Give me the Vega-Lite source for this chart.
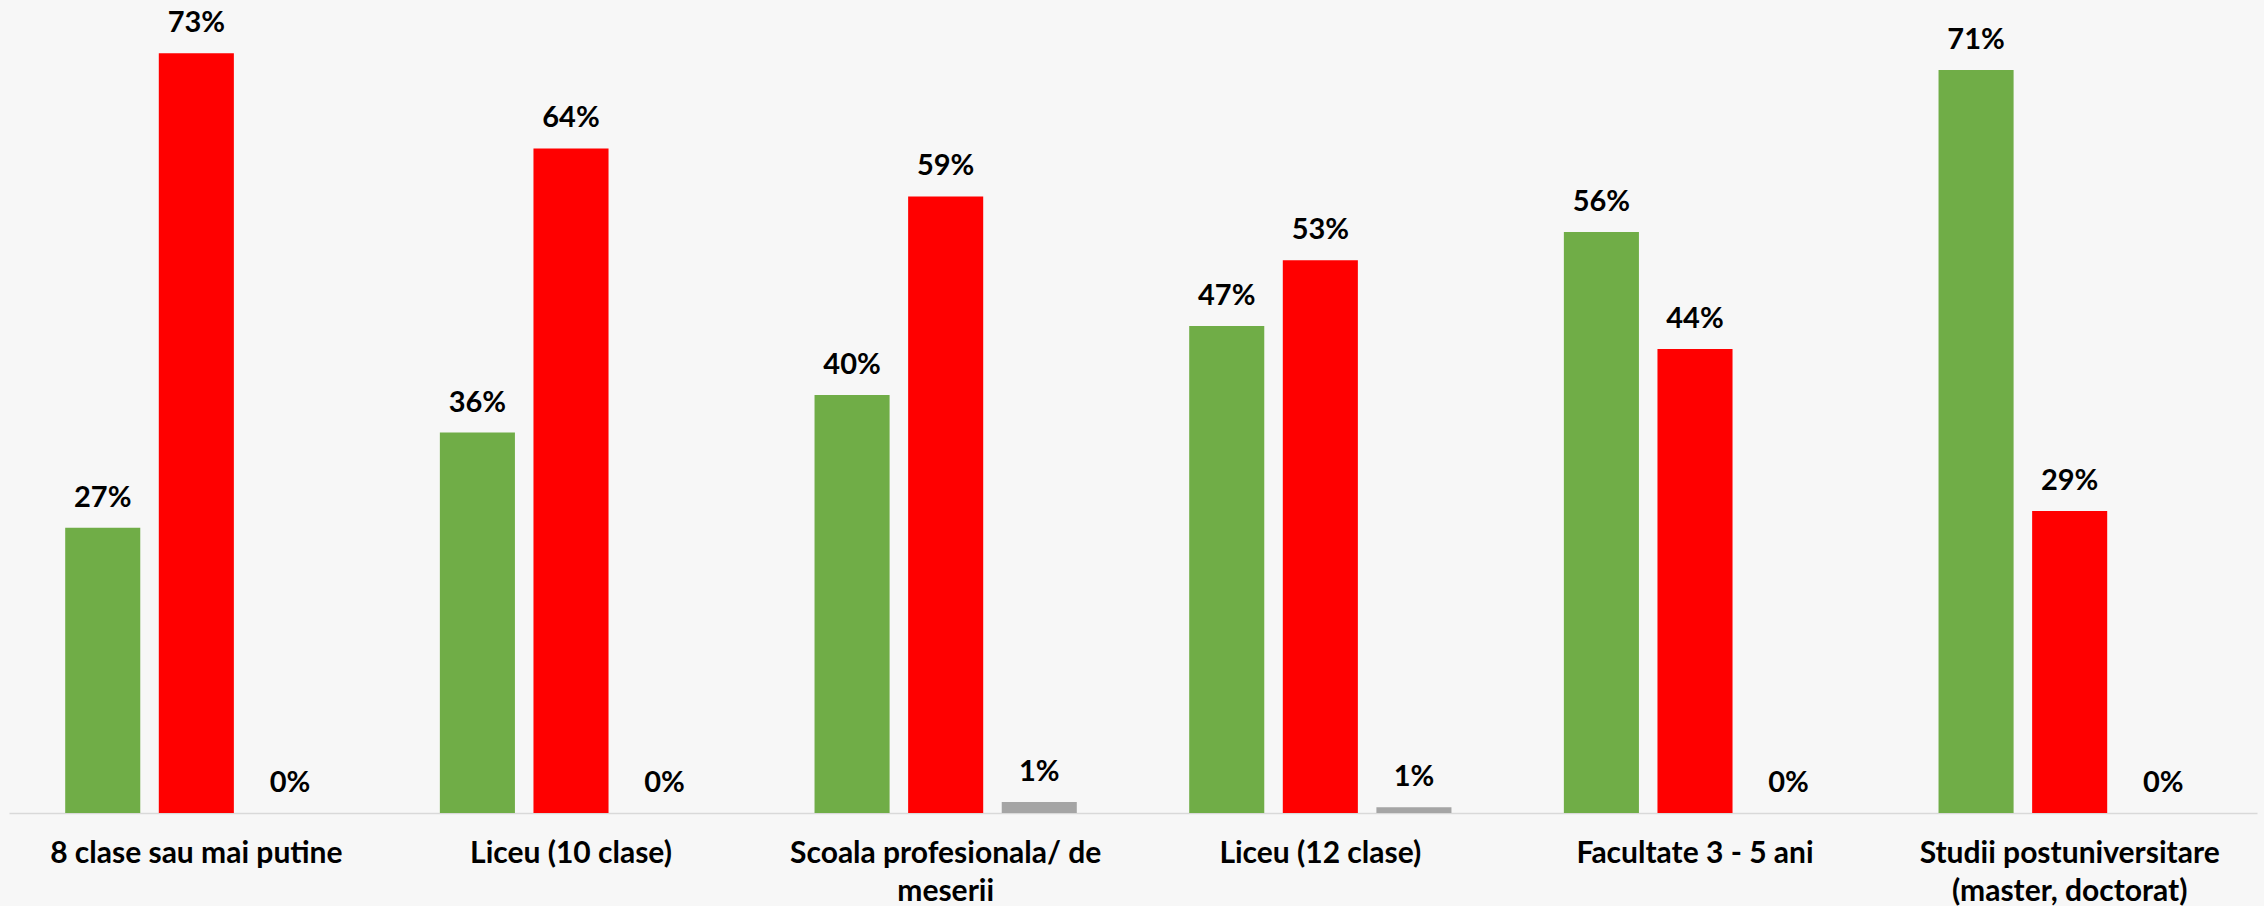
{
  "$schema": "https://vega.github.io/schema/vega-lite/v6.json",
  "width": 2248,
  "height": 813,
  "autosize": {"type": "none"},
  "padding": {"left": 9, "top": 0, "right": 7, "bottom": 93},
  "background": "#F7F7F7",
  "config": {"view": {"stroke": null}, "font": "Lato"},
  "data": {
    "values": [
      {"level": "8 clase sau mai putine", "answer": "Da", "value": 0.273},
      {"level": "8 clase sau mai putine", "answer": "Nu", "value": 0.727},
      {"level": "8 clase sau mai putine", "answer": "NS/NR", "value": 0},
      {"level": "Liceu (10 clase)", "answer": "Da", "value": 0.364},
      {"level": "Liceu (10 clase)", "answer": "Nu", "value": 0.636},
      {"level": "Liceu (10 clase)", "answer": "NS/NR", "value": 0},
      {"level": "Scoala profesionala/ de meserii", "answer": "Da", "value": 0.40},
      {"level": "Scoala profesionala/ de meserii", "answer": "Nu", "value": 0.59},
      {"level": "Scoala profesionala/ de meserii", "answer": "NS/NR", "value": 0.0105},
      {"level": "Liceu (12 clase)", "answer": "Da", "value": 0.466},
      {"level": "Liceu (12 clase)", "answer": "Nu", "value": 0.529},
      {"level": "Liceu (12 clase)", "answer": "NS/NR", "value": 0.0055},
      {"level": "Facultate 3 - 5 ani", "answer": "Da", "value": 0.556},
      {"level": "Facultate 3 - 5 ani", "answer": "Nu", "value": 0.444},
      {"level": "Facultate 3 - 5 ani", "answer": "NS/NR", "value": 0},
      {"level": "Studii postuniversitare (master, doctorat)", "answer": "Da", "value": 0.711},
      {"level": "Studii postuniversitare (master, doctorat)", "answer": "Nu", "value": 0.289},
      {"level": "Studii postuniversitare (master, doctorat)", "answer": "NS/NR", "value": 0}
    ]
  },
  "encoding": {
    "x": {
      "field": "level",
      "type": "nominal",
      "sort": ["8 clase sau mai putine", "Liceu (10 clase)", "Scoala profesionala/ de meserii", "Liceu (12 clase)", "Facultate 3 - 5 ani", "Studii postuniversitare (master, doctorat)"],
      "scale": {"paddingInner": 0.3, "paddingOuter": 0.15},
      "axis": {
        "title": null,
        "ticks": false,
        "tickSize": 0,
        "labelAngle": 0,
        "labelFont": "Lato",
        "labelFontSize": 30,
        "labelFontWeight": "bold",
        "labelColor": "#000000",
        "labelBaseline": "alphabetic",
        "labelPadding": 49,
        "labelLineHeight": 38,
        "labelLimit": 0,
        "domainColor": "#D9D9D9",
        "domainWidth": 1.5,
        "grid": false,
        "labelExpr": "datum.value == 'Scoala profesionala/ de meserii' ? ['Scoala profesionala/ de', 'meserii'] : datum.value == 'Studii postuniversitare (master, doctorat)' ? ['Studii postuniversitare', '(master, doctorat)'] : datum.value"
      }
    },
    "xOffset": {
      "field": "answer",
      "type": "nominal",
      "sort": ["Da", "Nu", "NS/NR"],
      "scale": {"paddingInner": 0.198, "paddingOuter": 0}
    },
    "y": {
      "field": "value",
      "type": "quantitative",
      "scale": {"domain": [0, 0.778], "nice": false, "zero": true},
      "axis": null
    }
  },
  "layer": [
    {
      "mark": {"type": "bar"},
      "encoding": {
        "color": {
          "field": "answer",
          "type": "nominal",
          "scale": {"domain": ["Da", "Nu", "NS/NR"], "range": ["#70AD47", "#FF0000", "#A5A5A5"]},
          "legend": null
        }
      }
    },
    {
      "mark": {"type": "text", "baseline": "alphabetic", "dy": -21, "fontSize": 29, "fontWeight": "bold", "color": "#000000", "font": "Lato"},
      "encoding": {
        "text": {"field": "value", "type": "quantitative", "format": ".0%"}
      }
    }
  ]
}
